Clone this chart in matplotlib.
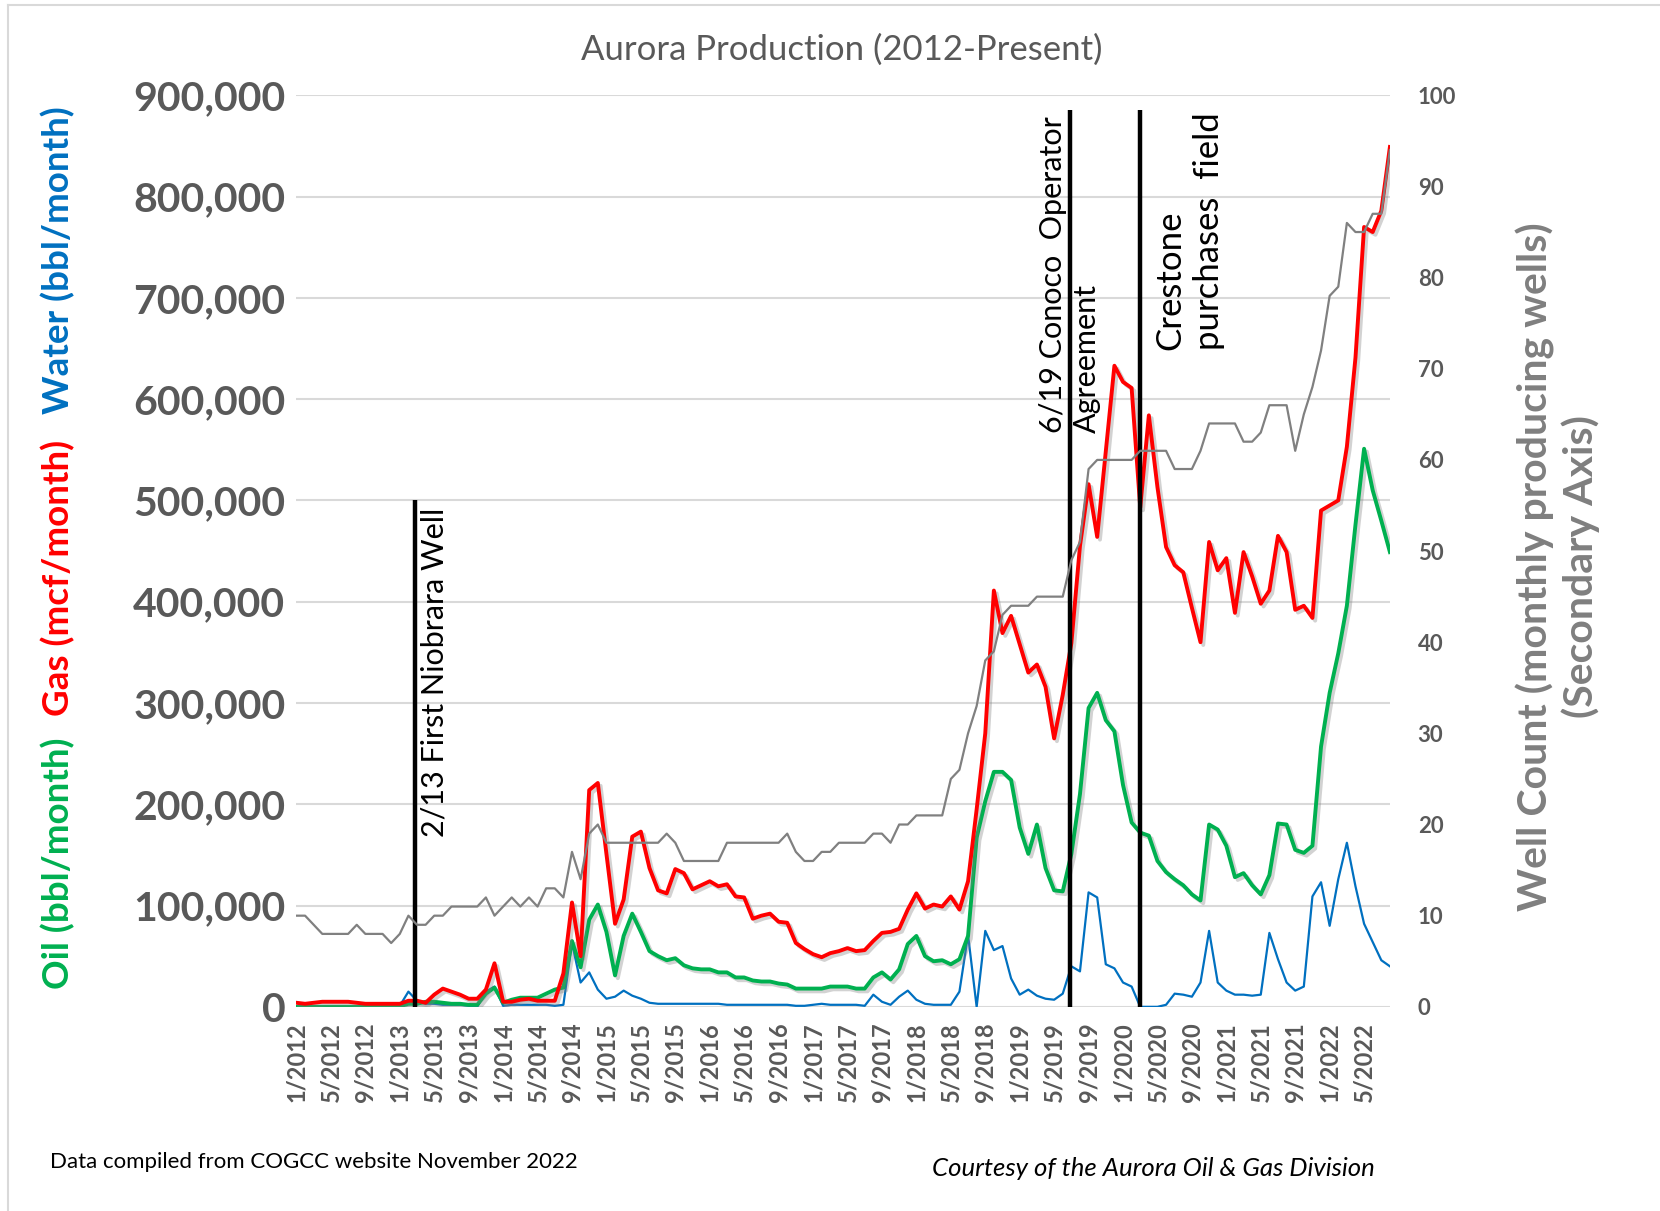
import matplotlib
matplotlib.use("Agg")
import matplotlib.pyplot as plt
import matplotlib.patheffects as pe
import numpy as np

# monthly values, 1/2012 .. 8/2022
gas = [4000, 3000, 4000, 5000, 5000, 5000, 5000, 4000, 3000, 3000, 3000, 3000,
       3000, 6000, 6000, 4000, 12000, 18000, 15000, 12000, 8000, 8000, 17000, 43000,
       5000, 5000, 7000, 8000, 6000, 6000, 6000, 33000, 103000, 50000, 214000, 221000,
       151000, 82000, 106000, 168000, 173000, 137000, 115000, 112000, 136000, 132000, 116000, 120000,
       124000, 119000, 121000, 109000, 108000, 87000, 90000, 92000, 84000, 83000, 63000, 57000,
       52000, 49000, 53000, 55000, 58000, 55000, 56000, 65000, 73000, 74000, 77000, 96000,
       112000, 97000, 101000, 99000, 109000, 96000, 124000, 195000, 270000, 411000, 369000, 386000,
       358000, 330000, 338000, 316000, 265000, 308000, 359000, 455000, 516000, 464000, 549000, 633000,
       617000, 611000, 493000, 584000, 513000, 454000, 436000, 429000, 394000, 360000, 459000, 431000,
       443000, 389000, 449000, 425000, 398000, 411000, 465000, 449000, 392000, 396000, 384000, 490000,
       495000, 500000, 553000, 641000, 770000, 765000, 786000, 849000]

oil = [0, 0, 0, 0, 0, 0, 0, 0, 0, 0, 0, 0,
       500, 3000, 3000, 5000, 5000, 4000, 3000, 3000, 2000, 2000, 13000, 19000,
       4000, 7000, 9000, 9000, 9000, 13000, 17000, 19000, 65000, 39000, 86000, 101000,
       74000, 31000, 70000, 92000, 74000, 55000, 50000, 46000, 48000, 41000, 38000, 37000,
       37000, 34000, 34000, 29000, 29000, 26000, 25000, 25000, 23000, 22000, 18000, 18000,
       18000, 18000, 20000, 20000, 20000, 18000, 18000, 29000, 34000, 27000, 37000, 62000,
       70000, 50000, 45000, 46000, 42000, 47000, 70000, 167000, 203000, 232000, 232000, 224000,
       177000, 151000, 180000, 137000, 115000, 114000, 151000, 210000, 295000, 310000, 283000, 272000,
       219000, 182000, 172000, 169000, 144000, 133000, 126000, 120000, 111000, 105000, 180000, 175000,
       159000, 128000, 132000, 120000, 111000, 130000, 181000, 180000, 155000, 152000, 159000, 257000,
       310000, 349000, 396000, 476000, 551000, 510000, 480000, 449000]

water = [0, 0, 0, 0, 0, 0, 0, 0, 0, 0, 0, 0,
         1000, 15000, 6000, 3000, 3000, 2000, 2000, 2000, 1000, 0, 15000, 20000,
         1000, 2000, 2000, 2000, 2000, 2000, 1000, 2000, 63000, 24000, 34000, 17000,
         8000, 10000, 16000, 11000, 8000, 4000, 3000, 3000, 3000, 3000, 3000, 3000,
         3000, 3000, 2000, 2000, 2000, 2000, 2000, 2000, 2000, 2000, 1000, 1000,
         2000, 3000, 2000, 2000, 2000, 2000, 1000, 12000, 5000, 2000, 10000, 16000,
         7000, 3000, 2000, 2000, 2000, 15000, 71000, 0, 75000, 56000, 60000, 28000,
         12000, 17000, 11000, 8000, 7000, 13000, 40000, 35000, 113000, 108000, 42000, 38000,
         24000, 20000, 0, 0, 0, 2000, 13000, 12000, 10000, 24000, 75000, 24000,
         16000, 12000, 12000, 11000, 12000, 73000, 47000, 24000, 16000, 20000, 109000, 123000,
         80000, 126000, 162000, 119000, 82000, 64000, 46000, 40000]

wells = [10, 10, 9, 8, 8, 8, 8, 9, 8, 8, 8, 7,
         8, 10, 9, 9, 10, 10, 11, 11, 11, 11, 12, 10,
         11, 12, 11, 12, 11, 13, 13, 12, 17, 14, 19, 20,
         18, 18, 18, 18, 18, 18, 18, 19, 18, 16, 16, 16,
         16, 16, 18, 18, 18, 18, 18, 18, 18, 19, 17, 16,
         16, 17, 17, 18, 18, 18, 18, 19, 19, 18, 20, 20,
         21, 21, 21, 21, 25, 26, 30, 33, 38, 39, 43, 44,
         44, 44, 45, 45, 45, 45, 49, 51, 59, 60, 60, 60,
         60, 60, 61, 61, 61, 61, 59, 59, 59, 61, 64, 64,
         64, 64, 62, 62, 63, 66, 66, 66, 61, 65, 68, 72,
         78, 79, 86, 85, 85, 87, 87, 94]

tick_labels = ["1/2012", "5/2012", "9/2012", "1/2013", "5/2013", "9/2013",
               "1/2014", "5/2014", "9/2014", "1/2015", "5/2015", "9/2015",
               "1/2016", "5/2016", "9/2016", "1/2017", "5/2017", "9/2017",
               "1/2018", "5/2018", "9/2018", "1/2019", "5/2019", "9/2019",
               "1/2020", "5/2020", "9/2020", "1/2021", "5/2021", "9/2021",
               "1/2022", "5/2022"]

# event markers (month index, line top, label anchor)
event_pos = [13.8, 89.8, 98.0]
event_top = [500000, 885000, 885000]
event_text = ["2/13 First Niobrara Well", "6/19 Conoco  Operator\nAgreement", "Crestone\npurchases  field"]
event_text_x = [16.0, 89.8, 103.7]
event_text_y = [168000, 567000, 649000]
event_size = [22, 22, 25]

plt.rcParams['font.family'] = ['Lato', 'DejaVu Sans']

GREEN = '#00B050'
RED = '#FF0000'
BLUE = '#0070C0'
GRAY = '#808080'
TXT = '#595959'

fig = plt.figure(figsize=(16.6, 12.11), dpi=100)
ax = fig.add_axes([0.1786, 0.1686, 0.6587, 0.7527])
ax2 = ax.twinx()

x = np.arange(len(gas))
shadow = [pe.SimpleLineShadow(offset=(2, -2), shadow_color='gray', alpha=0.35), pe.Normal()]

ax.plot(x, water, color=BLUE, lw=1.6, zorder=3)
ax.plot(x, oil, color=GREEN, lw=2.8, zorder=4, path_effects=shadow)
ax.plot(x, gas, color=RED, lw=2.8, zorder=5, path_effects=shadow)
ax2.plot(x, wells, color=GRAY, lw=1.6)

ax.vlines(event_pos, 0, event_top, color='black', lw=3.2, zorder=6)
for tx, ty, s, fs in zip(event_text_x, event_text_y, event_text, event_size):
    ax.text(tx, ty, s, rotation=90, ha='center', va='bottom', multialignment='left',
            fontsize=fs, color='black', linespacing=1.25, zorder=7)

ax.set_xlim(0, len(gas) - 1)
ax.set_ylim(0, 900000)
ax2.set_ylim(0, 100)
ax.set_yticks(np.arange(0, 900001, 100000))
ax.set_yticklabels([f"{v:,}" for v in range(0, 900001, 100000)])
ax2.set_yticks(np.arange(0, 101, 10))
ax.set_xticks(np.arange(0, len(gas), 4))
ax.set_xticklabels(tick_labels, rotation=90)

ax.grid(axis='y', color='#d9d9d9', lw=1.5)
ax.set_axisbelow(True)
for a in (ax, ax2):
    for sp in a.spines.values():
        sp.set_visible(False)
ax.tick_params(axis='y', length=0, pad=8, labelsize=29.5, labelcolor=TXT)
ax.tick_params(axis='x', length=0, pad=11, labelsize=17, labelcolor=TXT)
ax2.tick_params(axis='y', length=0, pad=20, labelsize=16, labelcolor=TXT)
for lab in ax.get_yticklabels() + ax.get_xticklabels() + ax2.get_yticklabels():
    lab.set_fontweight('bold')

fig.text(0.507, 0.9587, "Aurora Production (2012-Present)", ha='center', va='center',
         fontsize=25, color=TXT)

# left axis title in three colours
fig.text(0.035, 0.2874, "Oil (bbl/month)", rotation=90, ha='center', va='center',
         fontsize=26.5, fontweight='bold', color=GREEN)
fig.text(0.035, 0.5227, "Gas (mcf/month)", rotation=90, ha='center', va='center',
         fontsize=26.5, fontweight='bold', color=RED)
fig.text(0.035, 0.785, "Water (bbl/month)", rotation=90, ha='center', va='center',
         fontsize=26.5, fontweight='bold', color=BLUE)

fig.text(0.9385, 0.532, "Well Count (monthly producing wells)\n(Secondary Axis)", rotation=90,
         ha='center', va='center', multialignment='center', fontsize=29.5, fontweight='bold',
         color='#7f7f7f', linespacing=1.2)

fig.text(0.030, 0.0405, "Data compiled from COGCC website November 2022", ha='left', va='center',
         fontsize=16, color='black')
fig.text(0.828, 0.0355, "Courtesy of the Aurora Oil & Gas Division", ha='right', va='center',
         fontsize=18.5, color='black', style='italic')

# light frame line at top/left like the source screenshot
fig.add_artist(plt.Line2D([0.005, 0.005], [0, 0.996], color='#d9d9d9', lw=1.5))
fig.add_artist(plt.Line2D([0.005, 1], [0.996, 0.996], color='#d9d9d9', lw=1.5))

fig.savefig("out.png", dpi=100)
